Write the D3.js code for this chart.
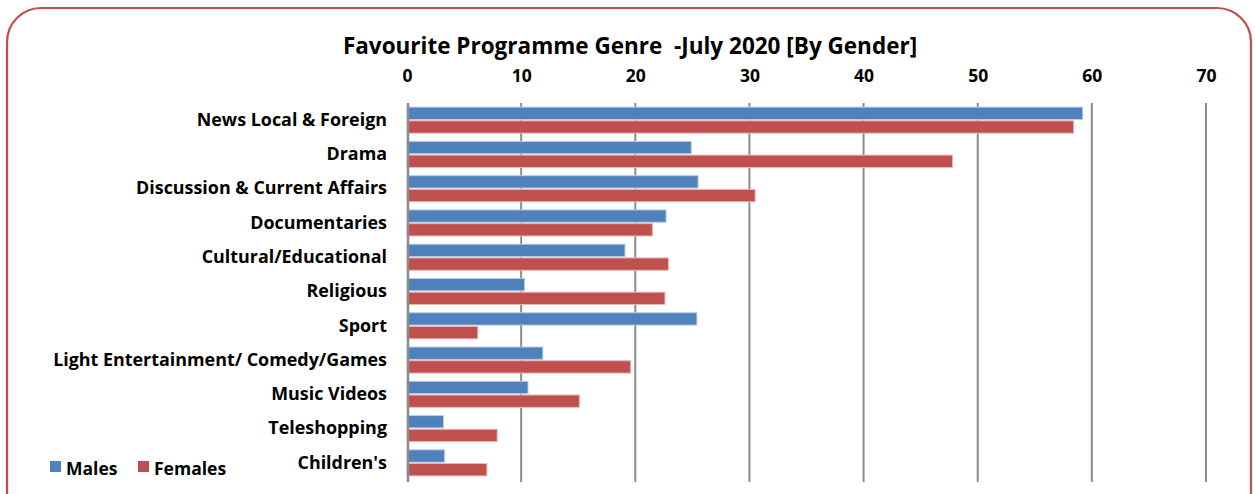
<!DOCTYPE html>
<html><head><meta charset="utf-8">
<script src="https://cdn.jsdelivr.net/npm/d3@7"></script>
<style>body{margin:0;background:#fff}svg{display:block}text{font-family:"Open Sans",Lato,sans-serif;font-weight:bold;fill:#000}</style>
</head><body><svg id="c" width="1255" height="494"></svg>
<script>
const categories = ["News Local & Foreign","Drama","Discussion & Current Affairs","Documentaries","Cultural/Educational","Religious","Sport","Light Entertainment/ Comedy/Games","Music Videos","Teleshopping","Children's"];
const males   = [59.2, 24.9, 25.5, 22.7, 19.1, 10.3, 25.4, 11.9, 10.6, 3.2, 3.3];
const females = [58.4, 47.8, 30.5, 21.5, 22.9, 22.6, 6.2, 19.6, 15.1, 7.9, 7.0];
const seriesNames = ["Males","Females"];
const colors = ["#4f81bd","#c0504d"];
const tickValues = [0,10,20,30,40,50,60,70];
const title = "Favourite Programme Genre  -July 2020 [By Gender]";

const svg = d3.select("#c");
svg.append("rect").attr("x",7).attr("y",8).attr("width",1244).attr("height",520)
  .attr("rx",34).attr("ry",34).attr("fill","#fff").attr("stroke","#c0504d").attr("stroke-width",2.2);

const x = d3.scaleLinear().domain([0,70]).range([407,1206]);
const y = d3.scaleBand().domain(categories).range([103,480]).paddingInner(0.24).paddingOuter(0.12);
const ys = d3.scaleBand().domain(seriesNames).range([0,y.bandwidth()]).paddingInner(0.1);

svg.append("text").attr("x",630).attr("y",54).attr("text-anchor","middle")
  .style("font-size","22.5px").style("white-space","pre").attr("xml:space","preserve").text(title);

// gridlines
svg.append("g").selectAll("line").data(tickValues.slice(1)).join("line")
  .attr("x1",d=>x(d)).attr("x2",d=>x(d)).attr("y1",103).attr("y2",482)
  .attr("stroke","#8c8c8c").attr("stroke-width",2);

// top axis
const ax = svg.append("g").attr("transform","translate(0,82)")
  .call(d3.axisTop(x).tickValues(tickValues).tickSize(0).tickPadding(0));
ax.select(".domain").remove();
ax.selectAll("text").style("font-size","17.5px").attr("fill","#000").attr("font-family","Open Sans").attr("font-weight","bold");

// bars
const data = categories.map((c,i)=>({c, vals:[males[i],females[i]]}));
const g = svg.append("g");
data.forEach(d=>{
  d.vals.forEach((v,j)=>{
    g.append("rect").attr("x",x(0)).attr("y",y(d.c)+ys(seriesNames[j]))
      .attr("width",x(v)-x(0)).attr("height",ys.bandwidth())
      .attr("fill",colors[j]).attr("stroke",j===0?"#b9cde5":"#e6b9b8").attr("stroke-width",1);
  });
});

// category axis
const ay = svg.append("g").attr("transform","translate(408,0)")
  .call(d3.axisLeft(y).tickSize(0).tickPadding(21));
ay.select(".domain").remove();
ay.selectAll("text").style("font-size","17.9px").attr("fill","#000").attr("font-family","Open Sans").attr("font-weight","bold");
svg.append("line").attr("x1",408).attr("x2",408).attr("y1",103).attr("y2",482)
  .attr("stroke","#8c8c8c").attr("stroke-width",2.5);

// legend
const lg = svg.append("g");
const lx = [50,138];
seriesNames.forEach((s,i)=>{
  lg.append("rect").attr("x",lx[i]).attr("y",461).attr("width",11).attr("height",11).attr("fill",colors[i]);
  lg.append("text").attr("x",lx[i]+16).attr("y",475).style("font-size","17.5px").text(s);
});
</script></body></html>
